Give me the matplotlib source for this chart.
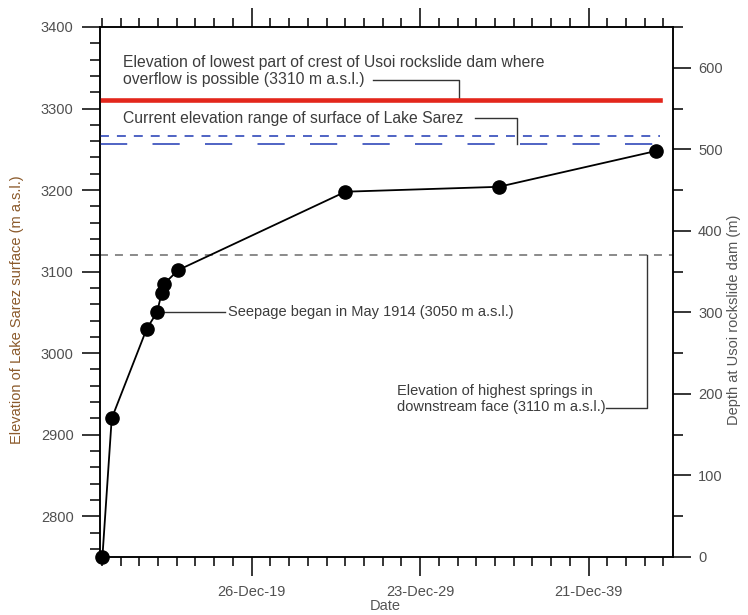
import numpy as np
import matplotlib
matplotlib.use('Agg')
import matplotlib.pyplot as plt
import matplotlib.dates as mdates
from matplotlib.ticker import MultipleLocator, FixedLocator
from matplotlib.transforms import blended_transform_factory

plt.rcParams['font.family'] = ['Liberation Sans', 'DejaVu Sans']

# survey dates and lake surface elevation (m a.s.l.)
dates = ['1911-02-18', '1911-09-08', '1913-10-06', '1914-05-15', '1914-08-27',
         '1914-10-16', '1915-08-22', '1925-07-20', '1934-08-22', '1943-12-26']
elev = [2750, 2920, 3030, 3050, 3074, 3085, 3102, 3198, 3204, 3248]

crest_elev = 3310
lake_range = [3266, 3256]
springs_elev = 3120
seepage_elev = 3050
seepage_date = '1914-05-15'

x_start = '1910-12-28'
x_end = '1944-12-23'
line_end = '1944-03-20'
major_dates = ['1919-12-26', '1929-12-23', '1939-12-21']

crest_text = 'Elevation of lowest part of crest of Usoi rockslide dam where\noverflow is possible (3310 m a.s.l.)'
lake_text = 'Current elevation range of surface of Lake Sarez'
seep_text = 'Seepage began in May 1914 (3050 m a.s.l.)'
springs_text = 'Elevation of highest springs in\ndownstream face (3110 m a.s.l.)'

x = mdates.datestr2num(dates)
xs = mdates.datestr2num(x_start)
xe = mdates.datestr2num(x_end)
xl = mdates.datestr2num(line_end)
majors = mdates.datestr2num(major_dates)

fig = plt.figure(figsize=(7.48, 6.15), dpi=100)
ax = fig.add_axes([100 / 748, 58 / 615, 573 / 748, 530 / 615])

txt_col = '#3c3c3c'
tick_col = '#505050'
fs = 10.5
fs_top = 11.3

# reference lines
ax.plot([xs, xl], [crest_elev, crest_elev], color='#e3261c', lw=3.3, zorder=3)
ax.plot([xs, xl], [lake_range[0]] * 2, color='#4f63c4', lw=1.4, ls=(0, (4.6, 4.1)), zorder=3)
ax.plot([xs, xl], [lake_range[1]] * 2, color='#4f63c4', lw=1.4, ls=(0, (14, 13)), zorder=3)
ax.plot([xs, xe], [springs_elev, springs_elev], color='#8a8a8a', lw=1.4, ls=(0, (4.1, 3.6)), zorder=2)

# lake level curve
ax.plot(x, elev, color='black', lw=1.3, marker='o', ms=9.5, zorder=5, clip_on=False)

ax.set_xlim(xs, xe)
ax.set_ylim(2750, 3400)

ax.xaxis.set_major_locator(FixedLocator(majors))
minors = majors[0] + (3650 / 9) * np.arange(-9, 30)
minors = [m for m in minors if xs <= m <= xe and np.min(np.abs(majors - m)) > 5]
ax.xaxis.set_minor_locator(FixedLocator(minors))
ax.xaxis.set_major_formatter(mdates.DateFormatter('%d-%b-%y'))
ax.yaxis.set_major_locator(MultipleLocator(100))
ax.yaxis.set_minor_locator(MultipleLocator(20))

ax.tick_params(axis='x', which='both', direction='out', top=True, bottom=True,
               width=1.1, labelsize=fs, labelcolor=tick_col)
ax.tick_params(axis='x', which='major', length=13.5, pad=7)
ax.tick_params(axis='x', which='minor', length=6.5)
ax.tick_params(axis='y', which='both', direction='out', right=False,
               width=1.1, labelsize=fs, labelcolor=tick_col)
ax.tick_params(axis='y', which='major', length=13, pad=6)
ax.tick_params(axis='y', which='minor', length=7)
for s in ax.spines.values():
    s.set_linewidth(1.1)

ax2 = ax.twinx()
ax2.set_ylim(0, 650)
ax2.yaxis.set_major_locator(MultipleLocator(100))
ax2.yaxis.set_minor_locator(MultipleLocator(50))
ax2.tick_params(axis='y', which='both', direction='out', width=1.1,
                labelsize=fs, labelcolor=tick_col)
ax2.tick_params(axis='y', which='major', length=13, pad=5)
ax2.tick_params(axis='y', which='minor', length=7)
for s in ax2.spines.values():
    s.set_linewidth(1.1)

ax.set_ylabel('Elevation of Lake Sarez surface (m a.s.l.)', color='#8b5a2b', fontsize=fs)
ax.yaxis.set_label_coords(-0.132, 0.466)
ax2.set_ylabel('Depth at Usoi rockslide dam (m)', color='#555555', fontsize=fs)
ax2.yaxis.set_label_coords(1.095, 0.447)
ax.set_xlabel('Date', color='#555555', fontsize=fs)
ax.xaxis.set_label_coords(0.497, -0.080)

# annotations with elbow leaders
tr = blended_transform_factory(ax.transAxes, ax.transData)
ax.text(0.040, 3346, crest_text, transform=tr, fontsize=fs_top, color=txt_col, va='center')
ax.plot([0.477, 0.6265, 0.6265], [3335, 3335, crest_elev], transform=tr, color='#333333', lw=1.0)

ax.text(0.040, 3288, lake_text, transform=tr, fontsize=fs_top, color=txt_col, va='center')
ax.plot([0.654, 0.727, 0.727], [3288, 3288, lake_range[1]], transform=tr, color='#333333', lw=1.0)

sx = mdates.datestr2num(seepage_date)
ax.plot([sx, xs + 0.218 * (xe - xs)], [seepage_elev, seepage_elev], color='#333333', lw=1.0)
ax.text(0.2234, seepage_elev, seep_text, transform=tr, fontsize=fs, color=txt_col, va='center')

ax.text(0.518, 2944, springs_text, transform=tr, fontsize=fs, color=txt_col, va='center')
ax.plot([0.883, 0.9546, 0.9546], [2933, 2933, springs_elev], transform=tr, color='#333333', lw=1.0)

fig.savefig('out.png', dpi=100)
